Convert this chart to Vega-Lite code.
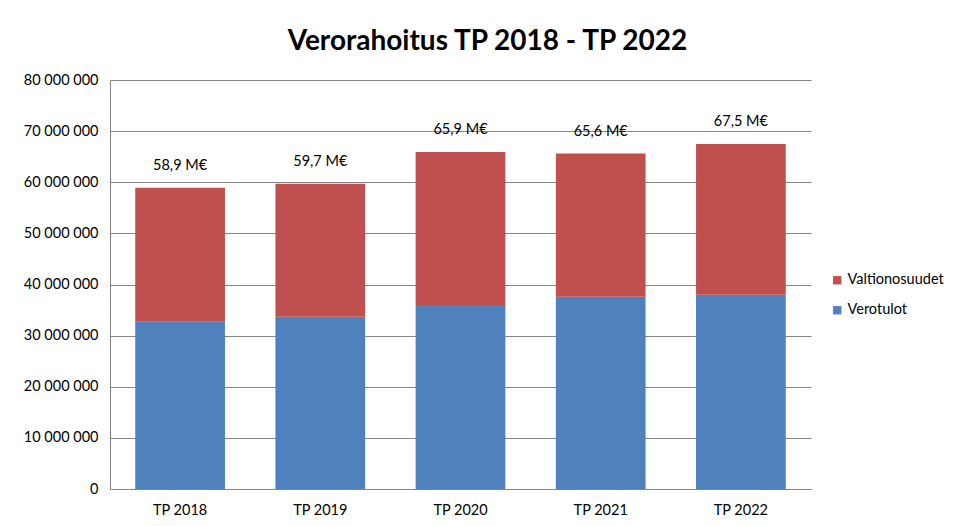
{
  "$schema": "https://vega.github.io/schema/vega-lite/v6.json",
  "autosize": "none",
  "width": 701,
  "height": 409,
  "padding": {"left": 110, "top": 80, "right": 143, "bottom": 37},
  "background": "white",
  "title": {
    "text": "Verorahoitus TP 2018 - TP 2022",
    "font": "Lato",
    "fontSize": 28,
    "fontWeight": "bold",
    "color": "#000000",
    "anchor": "middle",
    "dx": 27,
    "offset": 16
  },
  "datasets": {
    "bars": [
      {"year": "TP 2018", "series": "Verotulot", "value": 32700000},
      {"year": "TP 2018", "series": "Valtionosuudet", "value": 26200000},
      {"year": "TP 2019", "series": "Verotulot", "value": 33700000},
      {"year": "TP 2019", "series": "Valtionosuudet", "value": 26000000},
      {"year": "TP 2020", "series": "Verotulot", "value": 36000000},
      {"year": "TP 2020", "series": "Valtionosuudet", "value": 29900000},
      {"year": "TP 2021", "series": "Verotulot", "value": 37600000},
      {"year": "TP 2021", "series": "Valtionosuudet", "value": 28000000},
      {"year": "TP 2022", "series": "Verotulot", "value": 38000000},
      {"year": "TP 2022", "series": "Valtionosuudet", "value": 29500000}
    ],
    "totals": [
      {"year": "TP 2018", "total": 58900000, "label": "58,9 M€"},
      {"year": "TP 2019", "total": 59700000, "label": "59,7 M€"},
      {"year": "TP 2020", "total": 65900000, "label": "65,9 M€"},
      {"year": "TP 2021", "total": 65600000, "label": "65,6 M€"},
      {"year": "TP 2022", "total": 67500000, "label": "67,5 M€"}
    ]
  },
  "encoding": {
    "x": {
      "field": "year",
      "type": "nominal",
      "title": null,
      "scale": {"paddingInner": 0.36, "paddingOuter": 0.18},
      "axis": {
        "labelAngle": 0,
        "labelFont": "Lato",
        "labelFontSize": 14.5,
        "labelColor": "#000000",
        "labelPadding": 14,
        "ticks": false,
        "domainColor": "#868686",
        "domainWidth": 1
      }
    }
  },
  "layer": [
    {
      "data": {"name": "bars"},
      "mark": {"type": "bar", "stroke": null},
      "encoding": {
        "y": {
          "field": "value",
          "type": "quantitative",
          "stack": "zero",
          "title": null,
          "scale": {"domain": [0, 80000000]},
          "axis": {
            "values": [0, 10000000, 20000000, 30000000, 40000000, 50000000, 60000000, 70000000, 80000000],
            "labelExpr": "replace(format(datum.value, ','), regexp(',', 'g'), ' ')",
            "labelFont": "Lato",
            "labelFontSize": 14.5,
            "labelColor": "#000000",
            "labelPadding": 12,
            "ticks": false,
            "grid": true,
            "gridColor": "#868686",
            "gridWidth": 1,
            "domainColor": "#868686",
            "domainWidth": 1
          }
        },
        "color": {
          "field": "series",
          "type": "nominal",
          "scale": {"domain": ["Valtionosuudet", "Verotulot"], "range": ["#C0504D", "#4F81BD"]},
          "legend": {
            "title": null,
            "orient": "none",
            "legendX": 720,
            "legendY": 193,
            "symbolType": "square",
            "symbolSize": 70,
            "symbolStrokeWidth": 0,
            "labelFont": "Lato",
            "labelFontSize": 14.5,
            "labelColor": "#000000",
            "rowPadding": 15,
            "labelOffset": 3
          }
        },
        "order": {"field": "series", "sort": "descending"}
      }
    },
    {
      "data": {"name": "totals"},
      "mark": {"type": "text", "dy": -22, "font": "Lato", "fontSize": 14.5, "color": "#000000", "baseline": "middle"},
      "encoding": {
        "y": {"field": "total", "type": "quantitative"},
        "text": {"field": "label"}
      }
    }
  ],
  "config": {
    "view": {"stroke": null}
  }
}
